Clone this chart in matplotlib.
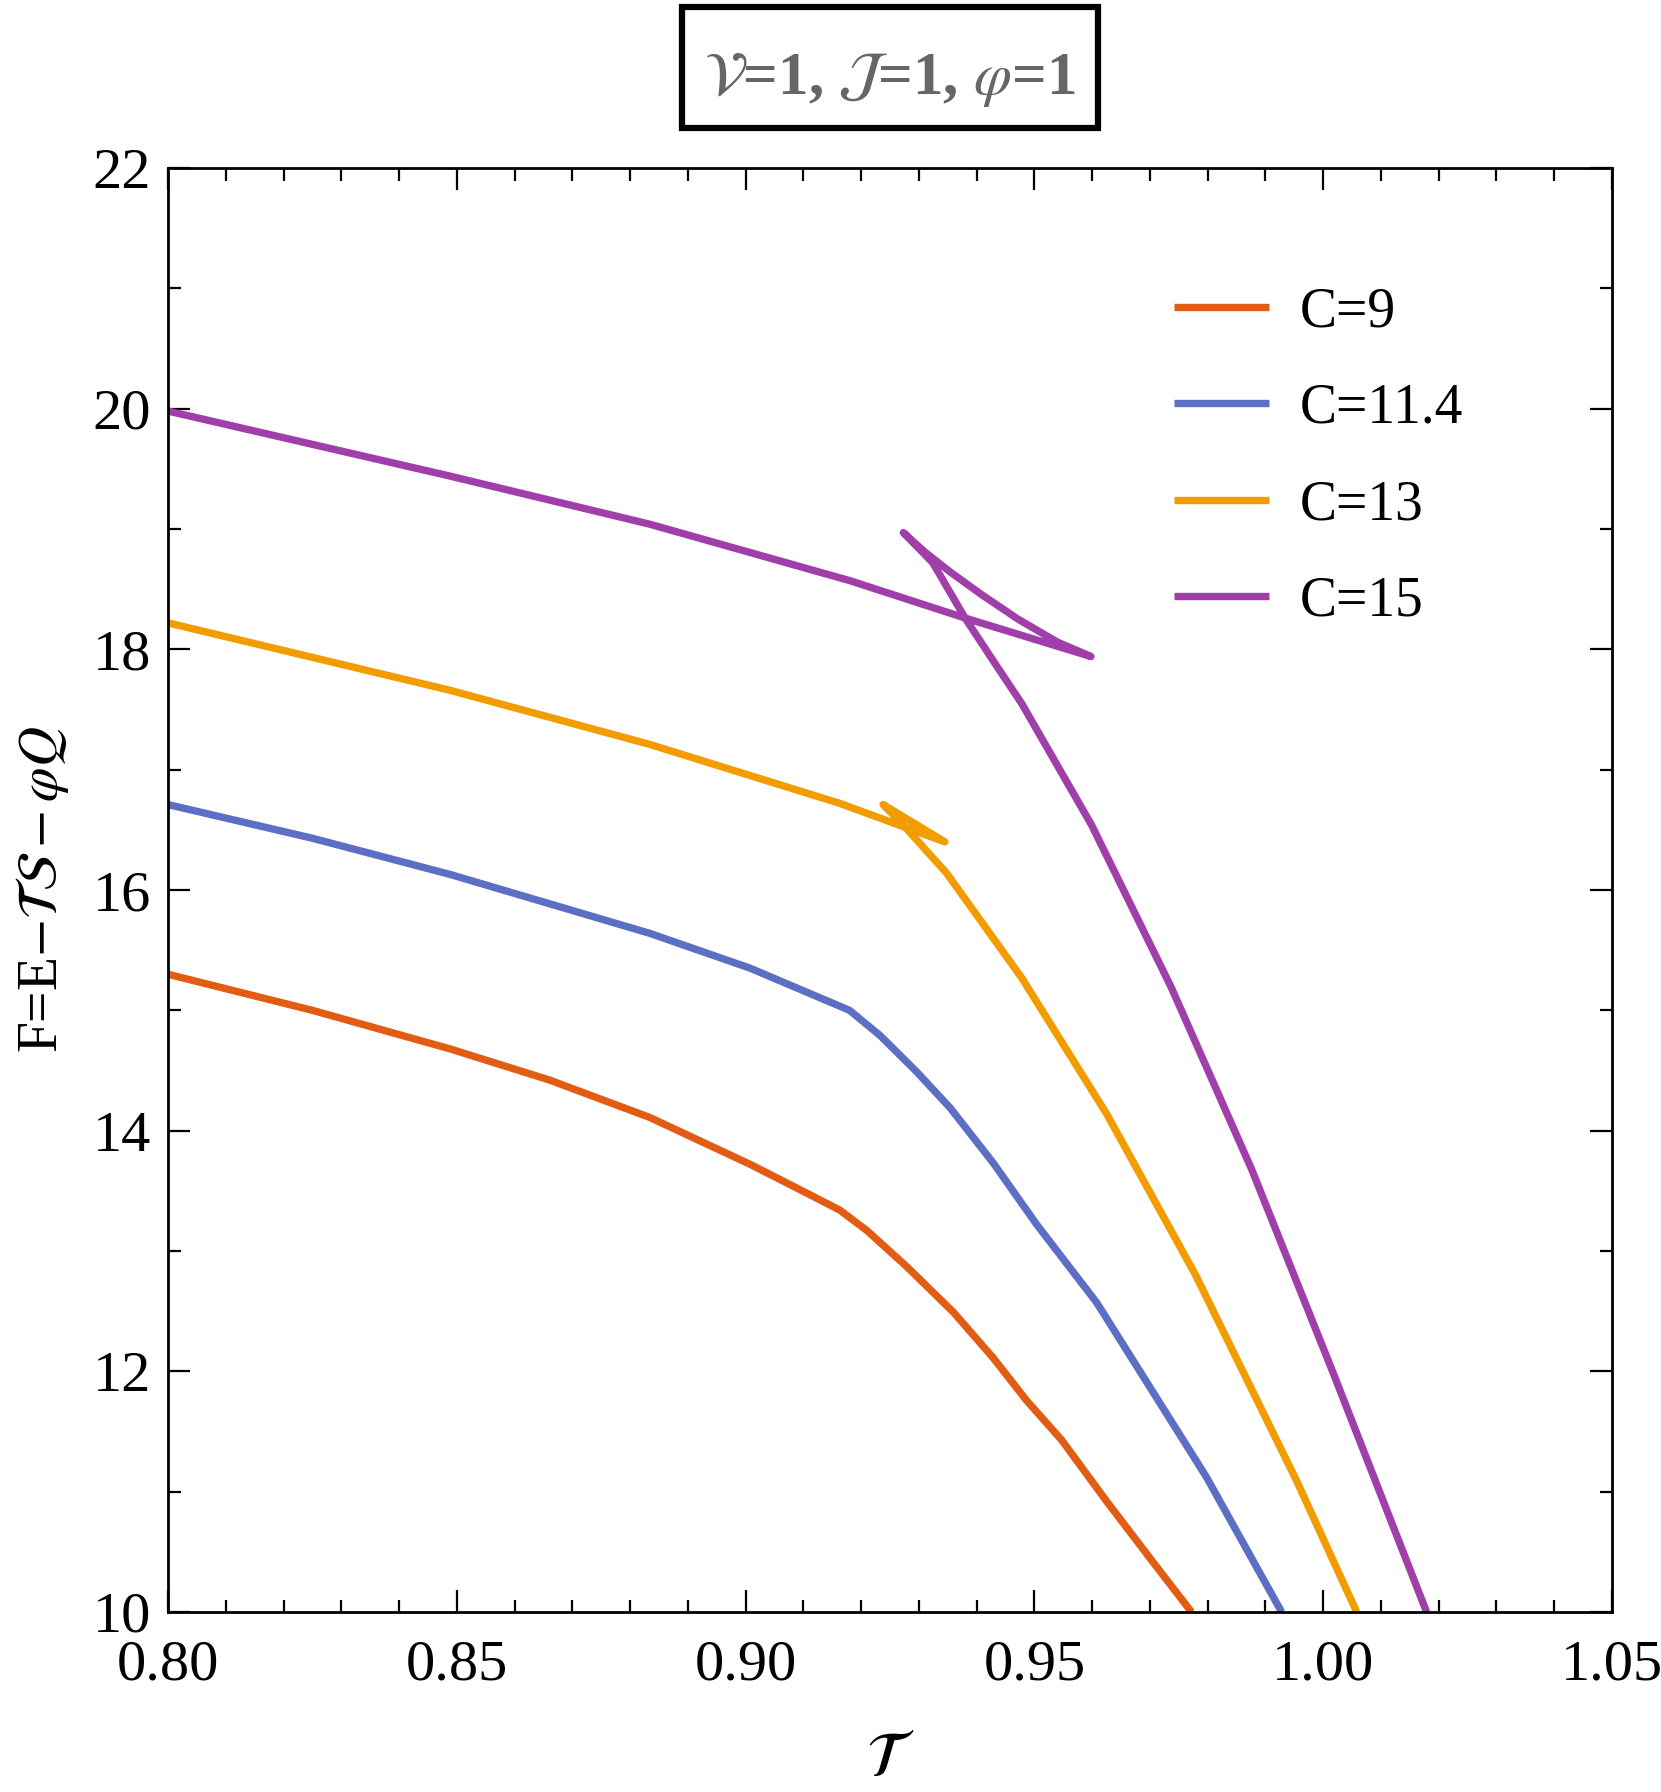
import matplotlib
matplotlib.use("Agg")
import matplotlib.pyplot as plt
from matplotlib.ticker import MultipleLocator, FormatStrFormatter
from matplotlib.patches import Rectangle

plt.rcParams['font.family'] = ['Liberation Serif', 'DejaVu Serif']
plt.rcParams['mathtext.fontset'] = 'stix'

# ---------------- data ----------------
labels = ["C=9", "C=11.4", "C=13", "C=15"]
colors = ["#E35C14", "#5C6FC4", "#F29C00", "#A03FAA"]

T_c9 = [0.800, 0.8250, 0.8488, 0.8661, 0.8834, 0.9008, 0.9094, 0.9163, 0.9210, 0.9279,
        0.9360, 0.9429, 0.9486, 0.9547, 0.9625, 0.9706, 0.9772]
F_c9 = [15.30, 15.00, 14.68, 14.42, 14.11, 13.72, 13.51, 13.34, 13.17, 12.87,
        12.49, 12.11, 11.76, 11.43, 10.92, 10.41, 10.00]

T_c114 = [0.800, 0.8250, 0.8488, 0.8834, 0.9008, 0.9180, 0.9233, 0.9296, 0.9354,
          0.9429, 0.9504, 0.9608, 0.9798, 0.9928]
F_c114 = [16.71, 16.43, 16.13, 15.64, 15.35, 15.00, 14.79, 14.49, 14.19,
          13.73, 13.22, 12.57, 11.12, 10.00]

T_c13 = [0.800, 0.8488, 0.8834, 0.9163, 0.9345, 0.9238, 0.9273, 0.9348, 0.9478,
         0.9625, 0.9778, 0.9954, 1.0058]
F_c13 = [18.22, 17.66, 17.21, 16.72, 16.40, 16.71, 16.54, 16.14, 15.27,
         14.14, 12.81, 11.09, 10.00]

T_c15 = [0.800, 0.8488, 0.8834, 0.9181, 0.9380, 0.9598, 0.9540, 0.9472, 0.9410,
         0.9355, 0.9310, 0.9273, 0.9324, 0.9380, 0.9428, 0.9478, 0.9599, 0.9737,
         0.9876, 1.0017, 1.0179]
F_c15 = [19.98, 19.44, 19.04, 18.57, 18.26, 17.94, 18.06, 18.25, 18.45,
         18.64, 18.81, 18.97, 18.72, 18.26, 17.91, 17.55, 16.54, 15.19,
         13.68, 11.99, 10.00]

series_T = [T_c9, T_c114, T_c13, T_c15]
series_F = [F_c9, F_c114, F_c13, F_c15]

x_ticks = [0.80, 0.85, 0.90, 0.95, 1.00, 1.05]
y_ticks = [10, 12, 14, 16, 18, 20, 22]

# ---------------- figure ----------------
W, H = 1661, 1792
fig = plt.figure(figsize=(W / 100, H / 100), dpi=100)
ax = fig.add_axes([168 / W, 1 - 1612 / H, 1444 / W, 1444 / H])

for T, F, c, lab in zip(series_T, series_F, colors, labels):
    ax.plot(T, F, color=c, lw=5.3, label=lab, solid_joinstyle='round',
            solid_capstyle='butt')

ax.set_xlim(0.80, 1.05)
ax.set_ylim(10, 22)
ax.set_xticks(x_ticks)
ax.set_yticks(y_ticks)
ax.xaxis.set_major_formatter(FormatStrFormatter('%.2f'))
ax.yaxis.set_major_formatter(FormatStrFormatter('%d'))
ax.xaxis.set_minor_locator(MultipleLocator(0.01))
ax.yaxis.set_minor_locator(MultipleLocator(1))
ax.tick_params(which='both', direction='in', top=True, right=True,
               labelsize=42, width=1.6, color='black')
ax.tick_params(which='major', length=16)
ax.tick_params(axis='x', which='major', pad=20)
ax.tick_params(axis='y', which='major', pad=12)
ax.tick_params(which='minor', length=9)
for s in ax.spines.values():
    s.set_linewidth(2.0)

ax.set_xlabel(r'$\mathcal{T}$', fontsize=46, labelpad=29)
ax.set_ylabel(r'F=E$-\mathcal{T}\mathcal{S}-\varphi Q$', fontsize=40, labelpad=16)

leg = ax.legend(loc='upper left', bbox_to_anchor=(0.697, 0.918), frameon=False,
                fontsize=40, handlelength=1.7, handletextpad=0.55,
                labelspacing=0.80, borderpad=0, borderaxespad=0)

# title box
bx0, bx1, by0, by1 = 682, 1098, 7, 128
fig.patches.append(Rectangle((bx0 / W, 1 - by1 / H), (bx1 - bx0) / W, (by1 - by0) / H,
                             transform=fig.transFigure, fill=False,
                             edgecolor='black', linewidth=4.5))
fig.text(890 / W, 1 - 80 / H,
         r'$\mathcal{V}$=1, $\mathcal{J}$=1, $\varphi$=1',
         ha='center', va='center', fontsize=44, fontweight='bold',
         color='#666666')

fig.savefig('out.png', dpi=100)
